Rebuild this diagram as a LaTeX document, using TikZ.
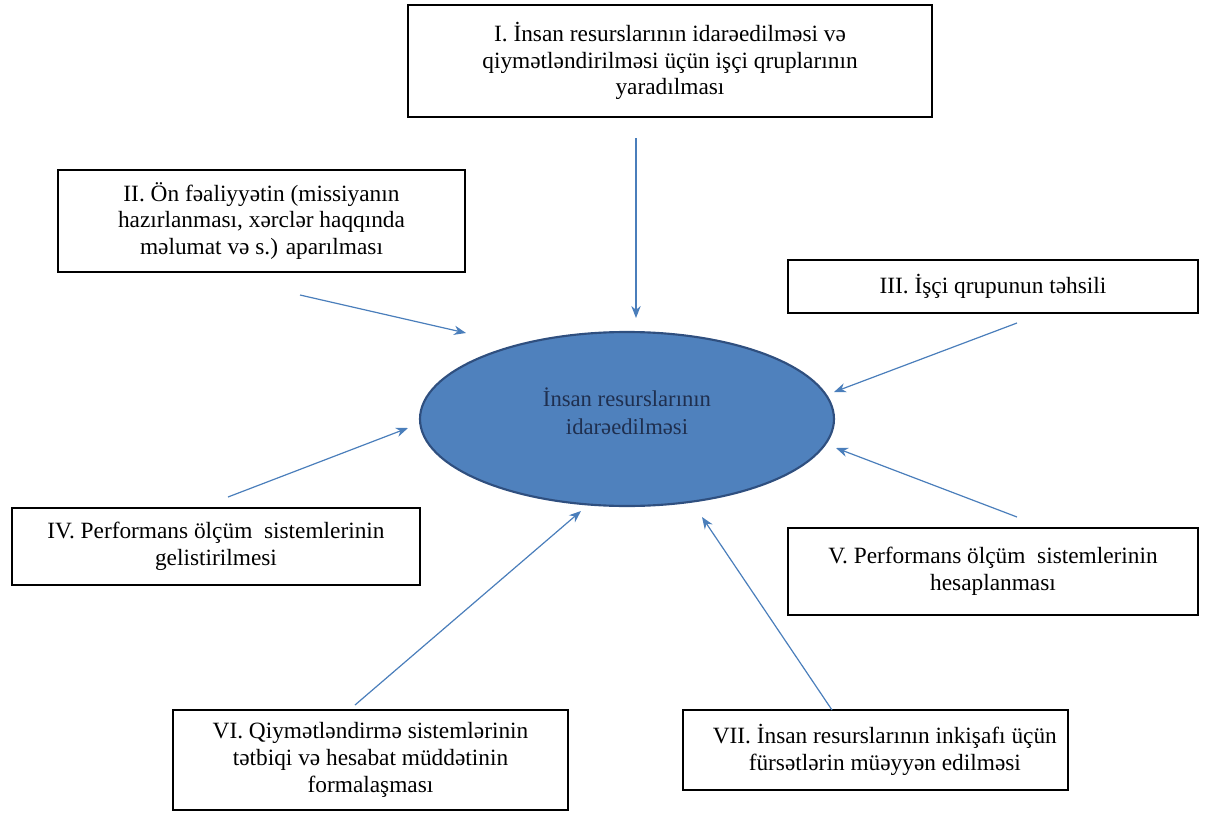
\documentclass[tikz,border=0pt]{standalone}
\usepackage{fontspec}
\setmainfont{Liberation Serif}
\usetikzlibrary{shapes.geometric,arrows.meta}
\definecolor{ellfill}{HTML}{4F81BD}
\definecolor{elldraw}{HTML}{2F4F7F}
\definecolor{arrblue}{HTML}{4A7EBB}
\definecolor{elltext}{HTML}{1F2F4F}
\tikzset{
  box/.style={draw=black, line width=1.1pt, rectangle, align=center, inner sep=0pt,
    font=\fontsize{17.5}{20}\selectfont},
  arr/.style={draw=arrblue, line width=0.9pt, -{Stealth[length=9pt,width=7pt]}},
}
\begin{document}
\begin{tikzpicture}[x=0.75pt,y=-0.75pt]
\useasboundingbox (0,0) rectangle (1208,814);
% central ellipse
\node[ellipse, draw=elldraw, line width=1.6pt, fill=ellfill, minimum width=414*0.75pt, minimum height=174*0.75pt, inner sep=0pt] (c) at (627,419) {};
\node[align=center, inner sep=0pt, font=\fontsize{17}{21}\selectfont\color{elltext}] (ct) at (627,411) {İnsan resurslarının\\idarəedilməsi};
% boxes
\node[box, minimum width=524*0.75pt, minimum height=112*0.75pt] (b1) at (670,61)
  {I. İnsan resurslarının idarəedilməsi və\\qiymətləndirilməsi üçün işçi qruplarının\\yaradılması};
\node[box, minimum width=407*0.75pt, minimum height=102*0.75pt] (b2) at (261.5,221)
  {II. Ön fəaliyyətin (missiyanın\\hazırlanması, xərclər haqqında\\məlumat və s.) aparılması};
\node[box, minimum width=410*0.75pt, minimum height=53*0.75pt] (b3) at (993,286.5)
  {III. İşçi qrupunun təhsili};
\node[box, minimum width=408*0.75pt, minimum height=77*0.75pt] (b4) at (216,546.5)
  {IV. Performans ölçüm\ \ sistemlerinin\\gelistirilmesi};
\node[box, minimum width=410*0.75pt, minimum height=87*0.75pt] (b5) at (993,571.5)
  {V. Performans ölçüm\ \ sistemlerinin\\hesaplanması};
\node[box, minimum width=395*0.75pt, minimum height=100*0.75pt] (b6) at (370.5,760)
  {VI. Qiymətləndirmə sistemlərinin\\tətbiqi və hesabat müddətinin\\formalaşması};
\node[box, minimum width=385*0.75pt, minimum height=80*0.75pt] (b7) at (875.5,750)
  {\hspace*{14pt}VII. İnsan resurslarının inkişafı üçün\\\hspace*{14pt}fürsətlərin müəyyən edilməsi};
% arrow end points
\coordinate (s1) at (636,138);  \coordinate (e1) at (636,318);
\coordinate (s2) at (300,295);  \coordinate (e2) at (466,333);
\coordinate (s3) at (1017,323); \coordinate (e3) at (834,392);
\coordinate (s4) at (228,497);  \coordinate (e4) at (408,428);
\coordinate (s5) at (1017,517); \coordinate (e5) at (836,448);
\coordinate (s6) at (355,705);  \coordinate (e6) at (581,511);
\coordinate (s7) at (832,710);  \coordinate (e7) at (702,517);
\foreach \i in {1,...,7} {\draw[arr] (s\i) -- (e\i);}
\end{tikzpicture}
\end{document}
